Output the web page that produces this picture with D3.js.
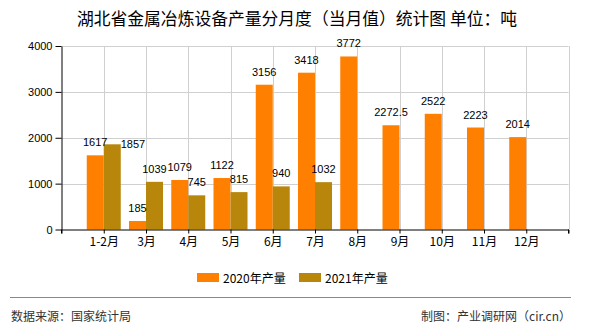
<!DOCTYPE html>
<html><head><meta charset="utf-8">
<script src="https://cdn.jsdelivr.net/npm/d3@7"></script>
<style>
body{margin:0;background:#fff;}
text{font-family:"Noto Sans CJK SC","DejaVu Sans",sans-serif;}
.num{font-family:"Liberation Sans",Arial,sans-serif;}
</style></head>
<body><svg id="c" width="590" height="330"></svg>
<script>
const categories = ["1-2月","3月","4月","5月","6月","7月","8月","9月","10月","11月","12月"];
const series2020 = [1617,185,1079,1122,3156,3418,3772,2272.5,2522,2223,2014];
const series2021 = [1857,1039,745,815,940,1032,null,null,null,null,null];
const seriesNames = ["2020年产量","2021年产量"];
const colors = ["#FF8000","#B8860B"];
const yTicks = [0,1000,2000,3000,4000];

const svg = d3.select("#c");
const L=61.5, R=568.5, T=46, B=229.5;
const x = d3.scalePoint().domain(categories).range([L,R]).padding(1);
const y = d3.scaleLinear().domain([0,4000]).range([B,T]);
const bw = 17;

svg.append("text").attr("x",297).attr("y",25).attr("text-anchor","middle")
  .style("font-size","16.8px").attr("fill","#000").text("湖北省金属冶炼设备产量分月度（当月值）统计图 单位：吨");

// grid
const g = svg.append("g");
g.selectAll(".hg").data(yTicks.slice(1)).join("line")
  .attr("x1",L).attr("x2",R).attr("y1",d=>Math.round(y(d))+0.5).attr("y2",d=>Math.round(y(d))+0.5)
  .attr("stroke","#d0d0d0");
g.selectAll(".vg").data(categories.map(c=>x(c)).concat([R])).join("line")
  .attr("x1",d=>Math.round(d)+0.5).attr("x2",d=>Math.round(d)+0.5).attr("y1",T).attr("y2",B)
  .attr("stroke","#d0d0d0");

// bars
const data = categories.map((c,i)=>({c,v:[series2020[i],series2021[i]]}));
const bars = svg.append("g");
data.forEach(d=>{
  d.v.forEach((v,k)=>{
    if(v==null) return;
    bars.append("rect").attr("x",x(d.c)-bw+k*bw).attr("width",bw)
      .attr("y",y(v)).attr("height",B-y(v)).attr("fill",colors[k]);
  });
});

// axes
const xa = svg.append("g").attr("transform",`translate(0,${B})`)
  .call(d3.axisBottom(x).tickSize(4).tickSizeOuter(4).tickPadding(4));
xa.select(".domain").attr("stroke","#000");
xa.append("line").attr("x1",R).attr("x2",R).attr("y1",0).attr("y2",4).attr("stroke","#000");
xa.append("line").attr("x1",L).attr("x2",L).attr("y1",0).attr("y2",4).attr("stroke","#000");
xa.selectAll("text").style("font-size","12px").attr("fill","#000");
const ya = svg.append("g").attr("transform",`translate(${L},0)`)
  .call(d3.axisLeft(y).tickValues(yTicks).tickFormat(d3.format("d")).tickSize(6).tickSizeOuter(0).tickPadding(3));
ya.selectAll("text").attr("class","num").style("font-size","11px").attr("fill","#000");

// labels
const lab = svg.append("g").attr("class","num").style("font-size","11px");
data.forEach(d=>{
  const boxes=[];
  d.v.forEach((v,k)=>{
    if(v==null) return;
    const cx = x(d.c)-bw/2+k*bw;
    const t = lab.append("text").attr("class","num").attr("text-anchor","middle").attr("fill","#000")
      .attr("x",cx).attr("y",y(v)-9).text(v);
    const bb = t.node().getBBox();
    if(boxes.length){
      const p = boxes[0];
      if(bb.x < p.x+p.width && Math.abs(bb.y-p.y)<bb.height){
        t.attr("text-anchor","start").attr("x", cx+bw/2).attr("y", y(v)+4);
      }
    }
    boxes.push({x:bb.x,y:bb.y,width:bb.width});
  });
});

// legend
const leg = svg.append("g");
const lx=[197,299];
seriesNames.forEach((n,i)=>{
  leg.append("rect").attr("x",lx[i]).attr("y",273).attr("width",22).attr("height",9).attr("fill",colors[i]);
  leg.append("text").attr("x",lx[i]+26).attr("y",282.5).style("font-size","12px").attr("fill","#000").text(n);
});

// footer
svg.append("line").attr("x1",10).attr("x2",571).attr("y1",297.5).attr("y2",297.5).attr("stroke","#888");
svg.append("text").attr("x",11).attr("y",321).style("font-size","12px").attr("fill","#333").text("数据来源：国家统计局");
svg.append("text").attr("x",571).attr("y",321).attr("text-anchor","end").style("font-size","12px").attr("fill","#333").text("制图：产业调研网（cir.cn）");
</script></body></html>
